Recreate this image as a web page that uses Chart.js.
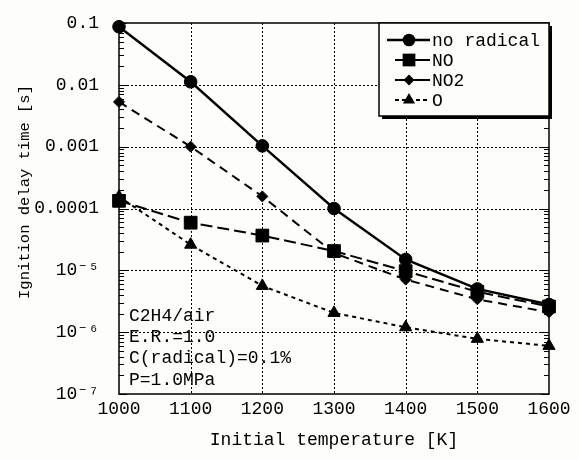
<!DOCTYPE html>
<html><head><meta charset="utf-8">
<script src="https://cdn.jsdelivr.net/npm/chart.js@4.4.1/dist/chart.umd.min.js"></script>
<style>html,body{margin:0;padding:0;background:#fdfdf9;}canvas{display:block}</style>
</head><body>
<canvas id="c" width="579" height="460"></canvas>
<script>
// ---- data ----
const temperatures = [1000, 1100, 1200, 1300, 1400, 1500, 1600];
const noRadical = [0.087, 0.0112, 0.00103, 1.0e-4, 1.5e-5, 5.0e-6, 2.8e-6];
const noValues  = [1.33e-4, 5.9e-5, 3.65e-5, 2.05e-5, 9.7e-6, 4.5e-6, 2.6e-6];
const no2Values = [5.3e-3, 1.0e-3, 1.57e-4, 1.9e-5, 7.1e-6, 3.4e-6, 2.1e-6];
const oValues   = [1.55e-4, 2.6e-5, 5.6e-6, 2.05e-6, 1.2e-6, 7.8e-7, 6.0e-7];
const seriesLabels = ['no radical', 'NO', 'NO2', 'O'];
const yTickValues = [1e-7, 1e-6, 1e-5, 1e-4, 1e-3, 1e-2, 1e-1];
const yTickLabels = ['10\u207B\u2077', '10\u207B\u2076', '10\u207B\u2075', '0.0001', '0.001', '0.01', '0.1'];
const xTickValues = [1000, 1100, 1200, 1300, 1400, 1500, 1600];
const xTickLabels = ['1000', '1100', '1200', '1300', '1400', '1500', '1600'];
const annotationLines = ['C2H4/air', 'E.R.=1.0', 'C(radical)=0.1%', 'P=1.0MPa'];
const xTitle = 'Initial temperature [K]';
const yTitle = 'Ignition delay time [s]';

const FONT = '"Liberation Mono", "DejaVu Sans Mono", monospace';
const BG = '#fdfdf9';

function mk(label, values, style, radius, dash, width) {
  return {
    label, data: temperatures.map((t, i) => ({x: t, y: values[i]})),
    borderColor: '#000', backgroundColor: '#000', borderWidth: width,
    borderDash: dash, pointStyle: style, pointRadius: radius, pointHoverRadius: radius,
    pointBackgroundColor: '#000', pointBorderColor: '#000', pointBorderWidth: 1,
    tension: 0, clip: false, fill: false
  };
}
const datasets = [
  mk(seriesLabels[0], noRadical, 'circle', 6.3, [], 2.4),
  mk(seriesLabels[1], noValues, 'rect', 9, [12, 5], 2),
  mk(seriesLabels[2], no2Values, 'rectRot', 5.5, [9, 6], 2),
  mk(seriesLabels[3], oValues, 'triangle', 7, [4, 4], 2)
];

function drawMarker(ctx, style, r, x, y) {
  ctx.save(); ctx.fillStyle = '#000'; ctx.setLineDash([]); ctx.beginPath();
  if (style === 'circle') ctx.arc(x, y, r, 0, Math.PI * 2);
  else if (style === 'rect') { const s = r * Math.SQRT1_2; ctx.rect(x - s, y - s, 2 * s, 2 * s); }
  else if (style === 'rectRot') { ctx.moveTo(x - r, y); ctx.lineTo(x, y - r); ctx.lineTo(x + r, y); ctx.lineTo(x, y + r); ctx.closePath(); }
  else if (style === 'triangle') {
    ctx.moveTo(x, y - r); ctx.lineTo(x + r * Math.sin(2 * Math.PI / 3), y - r * Math.cos(2 * Math.PI / 3));
    ctx.lineTo(x - r * Math.sin(2 * Math.PI / 3), y - r * Math.cos(2 * Math.PI / 3)); ctx.closePath();
  }
  ctx.fill(); ctx.restore();
}

const framePlugin = {
  id: 'frame',
  beforeDraw(chart) {
    const ctx = chart.ctx;
    ctx.save(); ctx.fillStyle = BG; ctx.fillRect(0, 0, chart.width, chart.height); ctx.restore();
  },
  beforeDatasetsDraw(chart) {
    const {ctx, chartArea: a, scales: {x, y}} = chart;
    ctx.save();
    ctx.strokeStyle = '#000'; ctx.lineWidth = 1; ctx.setLineDash([2, 2]);
    xTickValues.slice(1, -1).forEach(v => {
      const px = Math.round(x.getPixelForValue(v)) + 0.5;
      ctx.beginPath(); ctx.moveTo(px, a.top); ctx.lineTo(px, a.bottom); ctx.stroke();
    });
    yTickValues.slice(1, -1).forEach(v => {
      const py = Math.round(y.getPixelForValue(v)) + 0.5;
      ctx.beginPath(); ctx.moveTo(a.left, py); ctx.lineTo(a.right, py); ctx.stroke();
    });
    ctx.setLineDash([]);
    ctx.lineWidth = 1;
    for (let d = 0; d < yTickValues.length - 1; d++) {
      for (let m = 2; m <= 9; m++) {
        const py = Math.round(y.getPixelForValue(yTickValues[d] * m)) + 0.5;
        ctx.beginPath(); ctx.moveTo(a.left, py); ctx.lineTo(a.left + 5, py);
        ctx.moveTo(a.right, py); ctx.lineTo(a.right - 5, py); ctx.stroke();
      }
    }
    yTickValues.forEach(v => {
      const py = Math.round(y.getPixelForValue(v)) + 0.5;
      ctx.beginPath(); ctx.moveTo(a.left, py); ctx.lineTo(a.left + 8, py);
      ctx.moveTo(a.right, py); ctx.lineTo(a.right - 8, py); ctx.stroke();
    });
    ctx.lineWidth = 1.5;
    ctx.strokeRect(a.left, a.top, a.right - a.left, a.bottom - a.top);
    ctx.fillStyle = '#000'; ctx.font = '18px ' + FONT; ctx.textBaseline = 'middle'; ctx.textAlign = 'left';
    annotationLines.forEach((t, i) => ctx.fillText(t, a.left + 10, 316 + i * 21.3));
    // y axis title
    ctx.save();
    ctx.translate(25, 192); ctx.rotate(-Math.PI / 2);
    ctx.font = '15.5px ' + FONT; ctx.textAlign = 'center'; ctx.textBaseline = 'middle';
    ctx.fillText(yTitle, 0, 0);
    ctx.restore();
    ctx.restore();
  },
  afterDraw(chart) {
    const ctx = chart.ctx;
    const bx = 379, by = 23, bw = 170, bh = 93;
    ctx.save();
    ctx.fillStyle = '#000'; ctx.fillRect(bx + 3, by + 3, bw, bh);
    ctx.fillStyle = BG; ctx.fillRect(bx, by, bw, bh);
    ctx.strokeStyle = '#000'; ctx.lineWidth = 1.5; ctx.strokeRect(bx, by, bw, bh);
    ctx.font = '18px ' + FONT; ctx.textBaseline = 'middle'; ctx.textAlign = 'left'; ctx.fillStyle = '#000';
    chart.data.datasets.forEach((ds, i) => {
      const yy = 40 + i * 20;
      ctx.lineWidth = ds.borderWidth; ctx.setLineDash(i === 3 ? [4, 3] : []);
      ctx.beginPath(); ctx.moveTo(i === 0 ? 387 : 395, yy); ctx.lineTo(430, yy); ctx.stroke();
      drawMarker(ctx, ds.pointStyle, ds.pointRadius, 409, yy);
      ctx.fillText(ds.label, 432, yy + 1);
    });
    ctx.restore();
  }
};

new Chart(document.getElementById('c'), {
  type: 'line',
  data: {datasets},
  options: {
    responsive: false, animation: false, devicePixelRatio: 1,
    layout: {padding: {left: 0, right: 30, top: 23, bottom: 0}},
    plugins: {legend: {display: false}, tooltip: {enabled: false}},
    scales: {
      x: {
        type: 'linear', min: 1000, max: 1600,
        afterBuildTicks: s => { s.ticks = xTickValues.map(v => ({value: v})); },
        afterFit: s => { s.height = 66; },
        grid: {display: false}, border: {display: false},
        ticks: {color: '#000', font: {family: FONT, size: 18}, padding: -4, autoSkip: false, maxRotation: 0,
          callback: (v, i) => xTickLabels[i]},
        title: {display: true, text: xTitle, color: '#000', font: {family: FONT, size: 18}, padding: {top: 0, bottom: 9}}
      },
      y: {
        type: 'logarithmic', min: 1e-7, max: 0.1,
        afterBuildTicks: s => { s.ticks = yTickValues.map(v => ({value: v})); },
        afterFit: s => { s.width = 119; },
        grid: {display: false}, border: {display: false},
        ticks: {color: '#000', font: {family: FONT, size: 18}, padding: 12, autoSkip: false,
          callback: (v, i) => yTickLabels[i]},
        title: {display: false, text: yTitle}
      }
    }
  },
  plugins: [framePlugin]
});
</script>
</body></html>
